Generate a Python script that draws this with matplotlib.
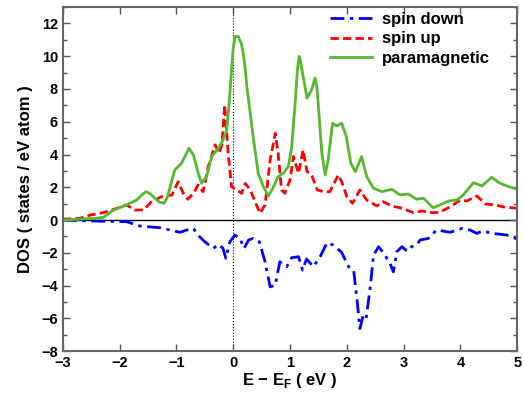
import numpy as np
import matplotlib
matplotlib.use("Agg")
import matplotlib.pyplot as plt
from matplotlib.ticker import MultipleLocator

plt.rcParams['font.family'] = ['Liberation Sans', 'DejaVu Sans']
plt.rcParams['font.weight'] = 'bold'
plt.rcParams['mathtext.fontset'] = 'custom'
plt.rcParams['mathtext.bf'] = 'Liberation Sans:bold'
plt.rcParams['mathtext.rm'] = 'Liberation Sans:bold'

# paramagnetic DOS
e_para = [-3.0, -2.7, -2.45, -2.29, -2.11, -1.88, -1.70, -1.62, -1.54, -1.46, -1.38, -1.30,
          -1.22, -1.16, -1.11, -1.03, -0.91, -0.84, -0.78, -0.70, -0.62, -0.56, -0.47,
          -0.38, -0.26, -0.18, -0.115, -0.07, -0.03, 0.0, 0.03, 0.09, 0.15, 0.20, 0.24,
          0.30, 0.35, 0.44, 0.53, 0.62, 0.71, 0.79, 0.88, 0.97, 1.03, 1.09, 1.13, 1.16,
          1.19, 1.22, 1.30, 1.38, 1.44, 1.47, 1.50, 1.56, 1.62, 1.67, 1.75, 1.82, 1.91,
          1.99, 2.07, 2.15, 2.26, 2.35, 2.47, 2.62, 2.79, 2.94, 3.08, 3.23, 3.35, 3.52,
          3.64, 3.79, 3.94, 4.05, 4.23, 4.38, 4.55, 4.70, 4.88, 5.0]
dos_para = [0.0, 0.05, 0.1, 0.16, 0.6, 0.92, 1.22, 1.5, 1.73, 1.6, 1.33, 1.1,
            1.02, 1.4, 2.04, 3.06, 3.47, 3.95, 4.38, 3.97, 2.9, 2.24, 2.65,
            3.87, 4.38, 4.89, 5.5, 7.2, 9.17, 10.5, 11.2, 11.2, 10.7, 9.6, 8.15,
            6.5, 5.1, 2.85, 2.04, 1.47, 2.04, 2.65, 2.85, 3.26, 4.48, 7.14, 9.2, 9.99,
            9.6, 8.97, 7.44, 7.95, 8.67, 8.2, 6.93, 4.08, 2.75, 3.67, 5.91, 5.75, 5.91,
            5.10, 3.47, 2.95, 3.87, 2.65, 1.94, 1.73, 1.88, 1.53, 1.59, 1.27, 1.33, 0.75,
            0.92, 1.16, 1.22, 1.53, 2.28, 2.08, 2.61, 2.24, 2.0, 1.88]

# spin up DOS
e_up = [-3.0, -2.7, -2.52, -2.29, -2.05, -1.88, -1.73, -1.58, -1.44, -1.26, -1.08,
        -0.97, -0.88, -0.80, -0.70, -0.62, -0.53, -0.44, -0.32, -0.25, -0.20,
        -0.15, -0.09, -0.03, 0.06, 0.15, 0.21, 0.30, 0.41, 0.47, 0.56, 0.65, 0.74,
        0.79, 0.85, 0.91, 1.0, 1.06, 1.15, 1.23, 1.30, 1.38, 1.48, 1.59, 1.70,
        1.85, 1.91, 2.0, 2.10, 2.23, 2.35, 2.53, 2.64, 2.79, 2.97, 3.17, 3.32,
        3.50, 3.64, 3.82, 4.0, 4.11, 4.29, 4.44, 4.61, 4.79, 5.0]
dos_up = [0.05, 0.1, 0.3, 0.45, 0.71, 0.92, 0.61, 0.61, 1.12, 1.43, 1.53,
          2.34, 1.63, 1.27, 1.63, 2.14, 1.73, 3.26, 4.59, 4.08, 4.6,
          7.03, 4.08, 2.04, 1.84, 1.63, 2.24, 1.84, 0.92, 0.41, 0.92, 3.67, 5.3,
          4.08, 1.84, 1.63, 2.45, 3.87, 2.85, 4.28, 2.96, 2.75, 1.84, 1.73, 1.73,
          2.75, 2.34, 1.43, 1.02, 1.84, 1.22, 0.86, 1.12, 0.86, 0.72, 0.45, 0.55,
          0.45, 0.47, 0.81, 1.22, 1.16, 1.47, 0.98, 0.92, 0.78, 0.72]

# spin down DOS (negative)
e_down = [-3.0, -2.47, -1.88, -1.64, -1.29, -1.11, -0.94, -0.82, -0.70, -0.62,
          -0.50, -0.35, -0.26, -0.18, -0.13, -0.06, 0.03, 0.12, 0.19, 0.27, 0.35,
          0.46, 0.56, 0.65, 0.74, 0.82, 0.94, 1.03, 1.15, 1.22, 1.29, 1.41, 1.53,
          1.65, 1.76, 1.91, 2.03, 2.12, 2.19, 2.23, 2.29, 2.34, 2.41, 2.47, 2.56,
          2.67, 2.76, 2.82, 2.88, 2.97, 3.06, 3.14, 3.23, 3.29, 3.44, 3.58, 3.82,
          4.03, 4.17, 4.29, 4.38, 4.58, 4.82, 5.0]
dos_down = [0.0, -0.06, -0.1, -0.37, -0.47, -0.61, -0.75, -0.61, -0.51, -0.92,
            -1.33, -1.73, -1.49, -1.73, -2.34, -1.33, -0.92, -1.12, -1.73, -1.22, -1.12,
            -1.33, -2.55, -4.08, -3.98, -2.55, -2.85, -2.3, -2.24, -3.06, -2.38, -2.85, -2.24,
            -1.39, -1.53, -1.98, -2.85, -3.06, -5.2, -6.63, -5.81, -6.0, -4.18, -2.14, -1.63,
            -2.14, -2.65, -3.16, -1.94, -1.63, -1.9, -1.63, -1.53, -1.22, -1.12, -0.61, -0.75,
            -0.51, -0.61, -0.82, -0.67, -0.82, -0.92, -1.16]

fig = plt.figure(figsize=(5.24, 3.94), dpi=100)
ax = fig.add_axes([0.120, 0.109, 0.867, 0.873])

ax.axhline(0, color='black', lw=1.0, zorder=1)
ax.axvline(0, color='black', lw=0.8, ls=':', zorder=1)

ax.plot(e_down, dos_down, color='#0000ff', lw=2, dashes=(5, 2, 1.2, 2), label='spin down')
ax.plot(e_up, dos_up, color='#ff0000', lw=2, dashes=(3, 1.5), label='spin up')
ax.plot(e_para, dos_para, color='#55b82e', lw=2, label='paramagnetic')

ax.set_xlim(-3, 5)
ax.set_ylim(-8, 13)
ax.xaxis.set_major_locator(MultipleLocator(1))
ax.yaxis.set_major_locator(MultipleLocator(2))
ax.yaxis.set_minor_locator(MultipleLocator(1))
ax.tick_params(which='both', direction='in', top=True, right=True, labelsize=10.5,
               width=1, color='#555555')
ax.tick_params(which='major', length=5)
ax.tick_params(which='minor', length=3)
for lab in ax.get_xticklabels() + ax.get_yticklabels():
    lab.set_fontweight('bold')
for s in ax.spines.values():
    s.set_color('#666666')
    s.set_linewidth(1.5)

ax.set_xlabel(r'E $-$ E$_\mathbf{F}$ ( eV )', fontsize=12, fontweight='bold', labelpad=1)
ax.set_ylabel('DOS ( states / eV atom )', fontsize=12, fontweight='bold', labelpad=6)

leg = ax.legend(loc='upper right', frameon=False, fontsize=12, handlelength=2.5,
                handletextpad=0.6, borderaxespad=0, borderpad=0, labelspacing=0.25,
                bbox_to_anchor=(0.94, 0.985))

fig.savefig('out.png', dpi=100)
